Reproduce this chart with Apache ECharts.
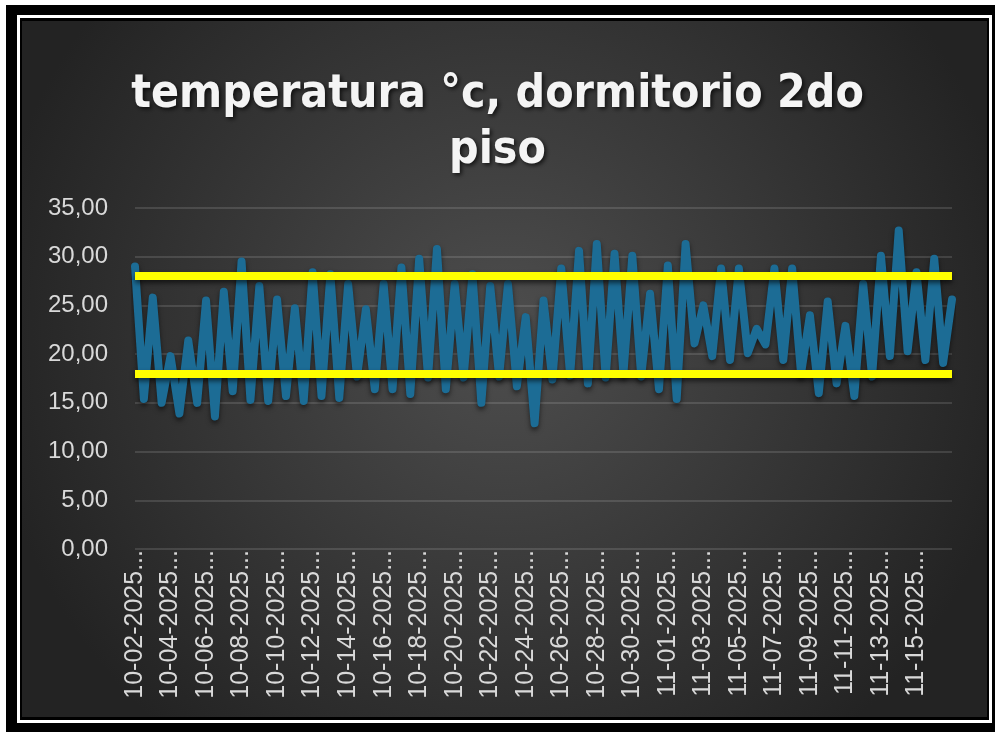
<!DOCTYPE html>
<html>
<head>
<meta charset="utf-8">
<script src="https://cdn.jsdelivr.net/npm/echarts@6/dist/echarts.min.js"></script>
<style>
  html, body { margin: 0; padding: 0; background: #fff; }
  #chart { width: 995px; height: 732px; }
</style>
</head>
<body>
<div id="chart"></div>
<script>
// one reading in the afternoon (max) and one early in the morning (min) per day
var dates = [
  '10-02-2025', '10-03-2025', '10-04-2025', '10-05-2025', '10-06-2025', '10-07-2025', '10-08-2025', '10-09-2025',
  '10-10-2025', '10-11-2025', '10-12-2025', '10-13-2025', '10-14-2025', '10-15-2025', '10-16-2025', '10-17-2025',
  '10-18-2025', '10-19-2025', '10-20-2025', '10-21-2025', '10-22-2025', '10-23-2025', '10-24-2025', '10-25-2025',
  '10-26-2025', '10-27-2025', '10-28-2025', '10-29-2025', '10-30-2025', '10-31-2025', '11-01-2025', '11-02-2025',
  '11-03-2025', '11-04-2025', '11-05-2025', '11-06-2025', '11-07-2025', '11-08-2025', '11-09-2025', '11-10-2025',
  '11-11-2025', '11-12-2025', '11-13-2025', '11-14-2025', '11-15-2025', '11-16-2025', '11-17-2025'
];
var dayMax = [
  29.0, 25.8, 19.8, 21.4, 25.5, 26.4, 29.5, 27.0, 25.6, 24.7,
  28.4, 28.2, 27.2, 24.6, 27.2, 28.9, 29.8, 30.8, 27.2, 28.2,
  27.0, 27.2, 23.8, 25.5, 28.8, 30.6, 31.3, 30.3, 30.1, 26.2,
  29.1, 31.3, 25.0, 28.8, 28.8, 22.6, 28.8, 28.8, 24.0, 25.4,
  22.9, 27.2, 30.1, 32.7, 28.4, 29.8, 25.6
];
var nightMin = [
  15.4, 15.0, 13.9, 15.0, 13.6, 16.2, 15.3, 15.2, 15.7, 15.2,
  15.7, 15.5, 17.7, 16.4, 16.4, 15.9, 17.6, 16.4, 17.6, 15.0,
  17.7, 16.7, 12.9, 17.4, 17.8, 17.0, 17.6, 18.0, 17.7, 16.4,
  15.4, 21.1, 19.8, 19.4, 20.1, 21.0, 19.4, 18.0, 16.0, 17.0,
  15.7, 17.7, 19.8, 20.3, 19.4, 19.1
];
var limits = [28, 18];
var yMin = 0, yMax = 35, yStep = 5;

var categories = [];
var temps = [];
dates.forEach(function (d, i) {
  if (i > 0) {
    categories.push(d + ' 06:00');
    temps.push(nightMin[i - 1]);
  }
  categories.push(d + ' 15:00');
  temps.push(dayMax[i]);
});

var myChart = echarts.init(document.getElementById('chart'));

var option = {
  backgroundColor: '#ffffff',
  animation: false,
  graphic: [
    { type: 'rect', z: -10, shape: { x: 6, y: 5, width: 989, height: 727 }, style: { fill: '#000' } },
    { type: 'rect', z: -10, shape: { x: 18.5, y: 16.5, width: 972, height: 705 },
      style: { fill: 'none', stroke: '#fff', lineWidth: 3 } },
    { type: 'rect', z: -10, shape: { x: 22, y: 21, width: 965, height: 696 },
      style: {
        fill: {
          type: 'radial', x: 0.5, y: 0.45, r: 0.75,
          colorStops: [
            { offset: 0, color: '#4e4e4e' },
            { offset: 1, color: '#232323' }
          ]
        }
      } }
  ],
  title: {
    text: 'temperatura °c, dormitorio 2do\npiso',
    left: 'center',
    top: 62,
    textStyle: {
      fontFamily: 'DejaVu Sans Condensed',
      fontWeight: 'bold',
      fontSize: 46,
      lineHeight: 56,
      color: '#f4f4f4',
      textShadowColor: 'rgba(0,0,0,0.7)',
      textShadowBlur: 4,
      textShadowOffsetX: 2,
      textShadowOffsetY: 2
    }
  },
  grid: {
    left: 135,
    right: 43,
    top: 208,
    bottom: 183,
    containLabel: false
  },
  xAxis: {
    type: 'category',
    boundaryGap: false,
    data: categories,
    axisLine: { show: false },
    axisTick: { show: false },
    axisLabel: {
      // every second day; the last reading falls outside the label step
      interval: function (i) { return i % 4 === 0 && i < categories.length - 1; },
      rotate: 90,
      margin: 1,
      color: '#d9d9d9',
      fontFamily: 'Liberation Sans',
      fontSize: 25,
      formatter: function (v) { return v.slice(0, 10) + '...'; }
    }
  },
  yAxis: {
    type: 'value',
    min: yMin,
    max: yMax,
    interval: yStep,
    axisLine: { show: false },
    axisTick: { show: false },
    axisLabel: {
      margin: 27,
      color: '#d9d9d9',
      fontFamily: 'Liberation Sans',
      fontSize: 24,
      formatter: function (v) { return v.toFixed(2).replace('.', ','); }
    },
    splitLine: { lineStyle: { color: 'rgba(255,255,255,0.17)', width: 1.5 } }
  },
  series: [
    {
      name: 'temperatura',
      type: 'line',
      data: temps,
      symbol: 'none',
      lineStyle: {
        color: '#1c6c95',
        width: 8,
        join: 'round',
        cap: 'round',
        shadowColor: 'rgba(0,0,0,0.55)',
        shadowBlur: 5,
        shadowOffsetY: 3
      },
      markLine: {
        silent: true,
        symbol: 'none',
        label: { show: false },
        lineStyle: {
          color: '#ffff00',
          width: 8,
          type: 'solid',
          shadowColor: 'rgba(0,0,0,0.6)',
          shadowBlur: 5,
          shadowOffsetY: 3
        },
        data: limits.map(function (v) { return { yAxis: v }; })
      }
    }
  ]
};

myChart.setOption(option);
window.addEventListener('resize', function () {
  myChart.resize();
});
</script>
</body>
</html>
